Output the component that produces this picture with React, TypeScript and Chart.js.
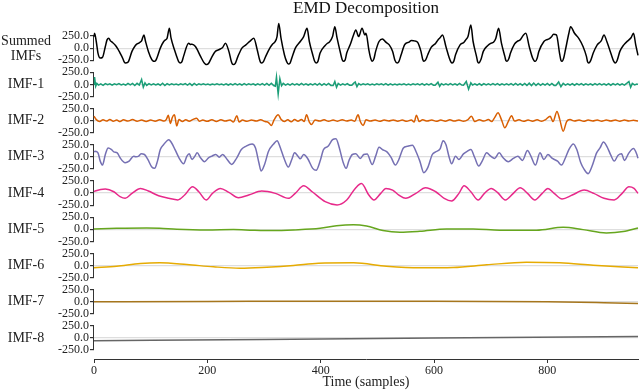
import { useEffect, useRef } from 'react';
import { Chart, registerables } from 'chart.js';

Chart.register(...registerables);

const TITLE = 'EMD Decomposition';
const X_LABEL = 'Time (samples)';
const X_MIN = 0;
const X_MAX = 960;
const X_TICKS = [0, 200, 400, 600, 800];
const Y_TICKS = [-250, 0, 250];
const PANEL_LABELS: string[][] = [['Summed', 'IMFs'], ['IMF-1'], ['IMF-2'], ['IMF-3'], ['IMF-4'], ['IMF-5'], ['IMF-6'], ['IMF-7'], ['IMF-8']];
const COLORS = ['#000000', '#1b9e77', '#d95f02', '#7570b3', '#e7298a', '#66a61e', '#e6ab02', '#a6761d', '#666666'];
const SMOOTH = [true, false, true, true, true, true, true, true, true];

// [sample, value]
const summed: [number, number][] = [
  [0, 239], [1, 307], [4, 137], [7, -102], [11, -205], [15, -191], [20, 34], [23, 171], [26, 205], [29, 150], [32, 123], [38, 55], [42, -14], [46, -102], [51, -219], [53, -280], [55, -307], [58, -305], [61, -273], [67, -68], [73, 55], [76, 90], [79, 102], [82, 130], [84, 150], [88, 273], [91, 137], [96, -68], [102, -239], [104, -265], [106, -273], [108, -270], [111, -205], [117, 0], [123, 137], [126, 170], [129, 205], [133, 410], [136, 205], [142, -34], [148, -239], [150, -290], [152, -307], [155, -285], [158, -171], [167, 102], [170, 75], [173, 82], [179, 34], [188, -171], [194, -300], [197, -335], [199, -341], [202, -320], [207, -205], [214, -68], [220, -34], [224, -10], [227, 14], [232, 102], [238, -68], [242, -260], [244, -325], [246, -341], [249, -320], [254, -171], [261, 0], [268, 68], [272, 110], [276, 150], [282, 205], [288, -34], [292, -230], [294, -295], [296, -307], [299, -280], [303, -171], [311, 14], [315, 80], [319, 123], [323, 239], [326, 512], [330, 205], [336, -137], [340, -280], [343, -328], [346, -310], [350, -171], [356, 14], [364, 137], [370, 239], [376, 410], [380, 137], [386, -137], [389, -260], [392, -307], [395, -280], [399, -102], [408, 55], [412, 100], [415, 123], [421, 239], [425, 444], [429, 205], [435, -102], [438, -240], [440, -273], [443, -250], [446, -102], [452, 68], [458, 273], [462, 376], [467, 239], [473, 410], [478, 273], [480, 307], [485, -34], [488, -200], [491, -273], [494, -220], [497, -68], [503, 137], [509, 191], [515, 123], [521, 68], [527, -68], [531, -250], [535, -307], [538, -280], [542, -137], [548, 68], [552, 110], [556, 123], [560, 160], [565, 150], [571, 123], [577, -68], [580, -230], [582, -273], [585, -250], [589, -137], [595, 14], [603, 102], [607, 170], [611, 218], [615, 273], [621, 34], [627, -205], [630, -290], [632, -307], [635, -270], [638, -137], [646, 68], [653, 123], [656, 170], [660, 239], [665, 478], [669, 137], [675, -171], [677, -280], [679, -307], [683, -230], [687, -68], [695, 55], [700, 100], [705, 123], [709, 200], [714, 410], [719, 102], [725, -171], [727, -260], [729, -273], [732, -220], [735, -102], [742, 82], [747, 140], [752, 171], [758, 273], [762, 307], [768, 34], [774, -205], [777, -265], [779, -273], [782, -210], [785, -68], [794, 137], [798, 170], [803, 191], [807, 230], [811, 287], [816, 273], [822, -137], [824, -250], [826, -273], [829, -200], [832, -34], [838, 307], [841, 444], [848, 307], [856, 191], [863, 34], [869, -171], [871, -280], [873, -307], [876, -270], [881, -102], [888, 68], [895, 150], [900, 273], [905, 137], [913, -137], [917, -270], [920, -307], [923, -260], [928, -68], [935, 68], [940, 130], [944, 171], [948, 220], [952, 307], [956, 68], [960, -150],
];

const imf1: [number, number][] = [
  [0, 0], [1, 150], [3, -40], [5, 20], [8, -15], [12, 10], [16, -20], [20, 15], [24, -8], [28, 12], [32, -18], [36, 10], [40, -6], [44, 14], [48, -12], [52, 8], [56, -15], [60, 18], [64, -10], [68, 20], [72, -25], [76, 22], [80, -15], [84, 100], [87, -60], [90, 30], [93, -20], [97, 15], [101, -10], [105, 12], [109, -14], [113, 8], [117, -18], [121, 22], [125, -25], [129, 15], [133, -12], [137, 10], [141, -8], [145, 6], [149, -12], [153, 10], [157, -8], [161, 14], [165, -16], [169, 20], [173, -22], [177, 18], [181, -15], [185, 12], [189, -8], [193, 10], [197, -6], [201, 8], [205, -10], [209, 6], [213, -8], [217, 10], [221, -6], [225, 8], [229, -10], [233, 12], [237, -14], [241, 10], [245, -12], [249, 14], [253, -10], [257, 12], [261, -14], [265, 16], [269, -12], [273, 10], [277, -8], [281, 12], [285, -14], [289, 10], [293, -12], [297, 14], [301, -16], [305, 18], [309, -20], [313, 22], [317, -25], [320, -40], [322, 150], [325, -200], [328, 120], [331, -30], [334, 20], [338, -15], [342, 12], [346, -18], [350, 14], [354, -10], [358, 12], [362, -14], [366, 18], [370, -12], [374, 10], [378, -14], [382, 12], [386, -10], [390, 14], [394, -16], [398, 18], [402, -20], [406, 16], [410, -14], [414, 18], [418, -22], [422, -25], [425, 60], [428, -60], [431, 20], [435, -15], [439, 12], [443, -10], [447, 16], [451, -18], [455, -20], [458, 20], [461, 50], [464, -50], [467, 15], [471, -12], [475, 10], [479, -8], [483, 10], [487, -12], [491, 8], [495, -10], [499, 12], [503, -8], [507, 10], [511, -12], [515, 14], [519, -16], [523, 12], [527, -10], [531, 8], [535, -10], [539, 6], [543, -8], [547, 10], [551, -12], [555, 8], [559, -10], [563, 12], [567, -8], [571, 10], [575, -12], [579, 14], [583, -16], [587, 12], [591, -10], [595, 14], [599, -18], [602, -20], [607, 45], [610, -40], [613, 14], [617, -12], [621, 10], [625, -12], [629, 14], [633, -10], [637, 12], [641, -14], [645, 18], [649, -16], [652, -20], [657, 60], [661, -100], [665, 30], [668, -15], [672, 12], [676, -14], [680, 16], [684, -18], [688, 14], [692, -12], [696, 12], [700, -10], [704, 14], [708, -12], [712, 16], [716, -14], [720, 12], [724, -10], [728, 12], [732, -12], [736, 14], [740, -16], [744, 18], [748, -16], [752, 14], [756, -18], [760, 20], [764, -22], [768, 24], [772, -25], [776, 28], [780, -22], [784, 18], [788, -20], [792, 16], [796, -14], [800, 18], [804, -20], [808, 20], [812, -22], [815, -25], [820, 50], [824, -50], [828, 20], [832, -16], [836, 12], [840, -14], [844, 16], [848, -18], [852, 14], [856, -12], [860, 16], [864, -14], [868, 12], [872, -10], [876, 12], [880, -14], [884, 16], [888, -12], [892, 14], [896, -10], [900, 12], [904, -14], [908, 16], [912, -18], [916, 14], [920, -12], [924, 16], [928, -14], [932, 12], [936, -16], [940, 20], [944, 60], [947, -60], [950, 20], [954, -10], [958, 8], [960, 0],
];

const imf2: [number, number][] = [
  [0, 90], [4, 20], [10, -20], [16, 15], [22, -10], [28, 20], [34, -15], [40, 10], [46, -20], [52, 15], [60, -10], [68, 20], [76, -15], [84, 12], [92, -18], [100, 10], [108, -12], [116, 15], [124, -10], [128, 30], [131, 110], [135, -60], [138, 60], [142, 120], [146, -110], [150, 20], [156, -20], [162, 15], [168, -12], [174, 20], [181, 50], [186, -15], [192, 10], [200, -15], [208, 18], [216, -20], [224, 15], [232, -10], [240, 12], [246, -30], [252, 100], [256, -30], [262, 10], [270, -15], [278, 12], [286, -10], [294, 15], [302, -20], [308, -40], [313, -100], [318, 20], [325, 120], [330, 30], [336, -20], [342, 15], [348, -25], [354, 20], [360, -15], [366, 25], [371, -20], [375, 120], [380, -30], [384, -80], [390, 10], [398, -10], [406, 15], [414, -15], [422, 12], [430, -12], [438, 18], [446, -10], [454, 10], [460, -15], [466, 120], [470, -20], [475, -100], [480, 15], [488, -10], [496, 12], [504, -15], [512, 10], [520, -8], [528, 14], [536, -12], [544, 10], [552, -15], [560, 12], [565, -30], [569, 110], [574, -20], [580, 15], [588, -10], [596, 12], [604, -15], [612, 10], [620, -12], [628, 15], [636, -10], [644, 14], [652, -15], [660, 20], [666, 90], [672, -20], [680, 15], [688, -10], [696, 20], [702, -20], [707, 60], [713, 160], [719, 20], [725, -150], [731, -20], [737, 100], [742, -10], [750, 15], [758, -15], [766, 10], [774, -12], [782, 15], [790, -15], [797, 20], [805, 90], [810, -20], [817, 190], [822, 20], [828, -220], [834, -20], [840, 20], [848, -10], [856, 12], [864, -15], [872, 10], [880, -8], [888, 12], [896, -12], [904, 10], [912, -10], [920, 12], [928, -12], [936, 10], [944, -10], [952, 8], [960, -10],
];

const imf3: [number, number][] = [
  [0, 100], [2, 116], [7, 82], [11, -89], [15, -171], [20, 48], [25, 184], [31, 150], [35, 102], [41, 82], [46, -20], [55, -123], [62, -89], [70, 14], [74, 0], [79, 14], [83, 61], [89, 48], [95, -55], [102, -212], [107, -239], [112, -89], [117, 150], [123, 253], [132, 355], [136, 307], [143, 150], [150, -20], [158, -143], [164, 14], [168, 61], [173, -55], [178, 14], [182, 82], [188, -20], [195, -102], [202, -20], [208, 14], [215, 48], [221, -7], [227, 48], [235, -55], [243, -157], [252, -20], [260, 150], [268, 218], [279, 266], [285, 184], [291, -123], [295, -294], [301, -157], [308, 116], [317, 266], [323, 335], [329, 184], [335, -20], [343, -212], [349, -55], [354, 82], [360, 14], [364, -41], [370, 48], [377, -34], [386, -239], [392, -280], [399, -89], [405, 150], [413, 218], [421, 355], [427, 376], [433, 184], [439, -89], [445, -239], [450, -75], [456, 48], [462, 61], [470, -34], [476, 48], [482, 60], [491, -157], [497, 14], [503, 198], [509, 150], [517, 102], [524, -7], [532, -171], [538, -55], [546, 184], [553, 218], [562, 239], [568, 116], [575, -89], [582, -328], [589, -225], [597, 48], [603, 102], [611, 171], [616, 335], [621, 253], [627, -20], [631, -143], [638, 14], [644, -55], [652, 61], [659, 116], [665, 150], [672, -20], [679, -191], [685, -89], [693, 82], [700, 14], [707, -34], [715, 82], [722, -20], [731, -102], [740, -34], [748, 14], [756, -75], [765, 130], [771, 14], [779, -171], [787, 82], [794, -55], [801, 48], [809, -34], [818, -89], [825, -171], [832, -20], [838, 150], [846, 266], [852, 150], [859, -123], [865, -260], [872, -348], [879, -191], [887, 82], [893, 184], [899, 307], [905, 218], [912, 34], [918, -89], [925, 34], [931, 61], [936, -75], [944, 82], [952, 171], [958, 48], [960, -30],
];

const imf4: [number, number][] = [
  [0, 30], [2, 41], [20, 82], [35, 27], [46, -75], [55, -109], [67, -7], [82, 96], [96, 41], [114, -55], [132, -109], [148, -143], [160, -41], [174, 130], [185, 27], [198, -143], [209, -7], [223, 96], [238, 14], [255, -96], [273, -41], [296, 41], [320, -7], [343, -109], [355, -7], [370, 150], [385, 27], [408, -178], [429, -246], [446, -143], [461, 96], [472, 198], [485, -41], [494, -143], [506, -7], [515, 96], [527, 61], [538, -41], [550, -109], [568, -7], [585, 109], [603, 27], [618, -109], [631, -164], [644, -7], [653, 150], [665, 27], [678, -143], [689, -7], [701, 96], [712, 14], [726, -143], [740, -7], [752, 109], [765, -7], [778, -143], [791, -7], [801, 96], [812, -7], [826, -123], [844, -41], [865, 61], [882, -7], [900, -109], [918, -143], [932, -7], [944, 130], [953, 96], [960, -7],
];

const imf5: [number, number][] = [
  [0, 7], [40, 20], [93, 27], [116, 20], [146, 0], [199, -14], [246, -7], [281, -20], [316, -27], [352, -14], [399, 20], [428, 75], [458, 96], [481, 68], [510, -27], [540, -61], [575, -41], [622, 7], [669, 7], [716, -20], [781, -20], [828, 41], [863, -7], [904, -75], [934, -48], [960, 27],
];

const imf6: [number, number][] = [
  [0, -48], [40, -14], [82, 41], [116, 55], [164, 20], [211, -27], [258, -55], [305, -34], [352, 0], [396, 45], [458, 55], [516, -14], [575, -48], [634, -41], [693, 14], [763, 68], [822, 55], [881, 7], [960, -48],
];

const imf7: [number, number][] = [
  [0, 0], [200, 5], [400, 12], [600, 12], [800, 0], [900, -20], [960, -35],
];

const imf8: [number, number][] = [
  [0, -55], [300, -30], [600, 0], [960, 30],
];

const SERIES = [summed, imf1, imf2, imf3, imf4, imf5, imf6, imf7, imf8];
const PANEL_MIN = [-375, -375, -375, -375, -375, -375, -375, -375, -435];
const PANEL_MAX = [375, 375, 375, 375, 375, 375, 375, 375, 375];
const PANEL_WEIGHT = [1, 1, 1, 1, 1, 1, 1, 1, 1.08];

const FONT = 'Liberation Serif, Times New Roman, serif';
const TEXT = '#222222';

const decorPlugin = {
  id: 'panelDecor',
  beforeDatasetsDraw(chart: any) {
    const ctx = chart.ctx;
    ctx.save();
    ctx.strokeStyle = '#333333';
    ctx.lineWidth = 1;
    const x = Math.round(chart.chartArea.left) - 0.5;
    for (let i = 0; i < SERIES.length; i++) {
      const s = chart.scales['y' + i];
      ctx.beginPath();
      ctx.moveTo(x, s.getPixelForValue(Y_TICKS[Y_TICKS.length - 1]));
      ctx.lineTo(x, s.getPixelForValue(Y_TICKS[0]));
      ctx.stroke();
    }
    ctx.restore();
  },
  afterDraw(chart: any) {
    const ctx = chart.ctx;
    ctx.save();
    ctx.fillStyle = TEXT;
    ctx.font = `14px ${FONT}`;
    ctx.textAlign = 'center';
    ctx.textBaseline = 'middle';
    for (let i = 0; i < PANEL_LABELS.length; i++) {
      const s = chart.scales['y' + i];
      const yc = s.getPixelForValue(0);
      const lines = PANEL_LABELS[i];
      const lh = 15;
      const start = yc - ((lines.length - 1) * lh) / 2 + (lines.length > 1 ? 1 : 0);
      lines.forEach((t, k) => ctx.fillText(t, 26, start + k * lh));
    }
    ctx.restore();
  },
};

export default function App() {
  const ref = useRef<HTMLCanvasElement | null>(null);
  useEffect(() => {
    if (!ref.current) return;
    const scales: any = {
      x: {
        type: 'linear',
        position: 'bottom',
        min: X_MIN,
        max: X_MAX,
        afterBuildTicks: (s: any) => { s.ticks = X_TICKS.map((v) => ({ value: v })); },
        afterFit: (s: any) => { s.height = 32; },
        border: { display: true, color: '#333333', width: 1 },
        grid: { display: true, drawOnChartArea: false, drawTicks: true, tickLength: 4, tickColor: '#333333' },
        ticks: { color: TEXT, font: { family: FONT, size: 12 }, padding: 1, maxRotation: 0, autoSkip: false },
        title: { display: true, text: X_LABEL, color: TEXT, font: { family: FONT, size: 14, lineHeight: 1.2 }, padding: { top: 0, bottom: 0 } },
      },
    };
    SERIES.forEach((_, i) => {
      scales['y' + i] = {
        type: 'linear',
        position: 'left',
        stack: 'panels',
        stackWeight: PANEL_WEIGHT[i],
        weight: SERIES.length - i,
        min: PANEL_MIN[i],
        max: PANEL_MAX[i],
        afterBuildTicks: (s: any) => { s.ticks = Y_TICKS.map((v) => ({ value: v })); },
        afterFit: (s: any) => { s.width = 94; },
        border: { display: false },
        grid: {
          display: true,
          drawTicks: true,
          tickLength: 4,
          tickColor: '#333333',
          lineWidth: 1.2,
          color: (c: any) => (c.tick && c.tick.value === 0 ? 'rgba(0,0,0,0.13)' : 'rgba(0,0,0,0)'),
        },
        ticks: {
          color: TEXT,
          font: { family: FONT, size: 12 },
          padding: 1,
          autoSkip: false,
          callback: (v: any) => Number(v).toFixed(1),
        },
      };
    });
    const chart = new Chart(ref.current, {
      type: 'line',
      data: {
        datasets: SERIES.map((pts, i) => ({
          label: PANEL_LABELS[i].join(' '),
          data: pts.map(([x, y]) => ({ x, y })),
          xAxisID: 'x',
          yAxisID: 'y' + i,
          borderColor: COLORS[i],
          backgroundColor: COLORS[i],
          borderWidth: 1.5,
          pointRadius: 0,
          tension: SMOOTH[i] ? 0.4 : 0,
          cubicInterpolationMode: SMOOTH[i] ? 'monotone' : 'default',
          clip: false,
        })) as any,
      },
      options: {
        responsive: false,
        animation: false,
        devicePixelRatio: 1,
        layout: { padding: { top: 0, right: 2, bottom: 0, left: 0 } },
        plugins: {
          legend: { display: false },
          tooltip: { enabled: false },
          title: {
            display: true,
            text: TITLE,
            fullSize: false,
            color: '#111111',
            font: { family: FONT, size: 17, weight: 'normal', lineHeight: 1 },
            padding: { top: 0, bottom: 13 },
          },
        },
        scales,
      },
      plugins: [decorPlugin],
    } as any);
    return () => chart.destroy();
  }, []);
  return (
    <div style={{ position: 'fixed', left: 0, top: 0, width: 640, height: 391, background: '#ffffff' }}>
      <canvas ref={ref} width={640} height={391} style={{ display: 'block' }} />
    </div>
  );
}
